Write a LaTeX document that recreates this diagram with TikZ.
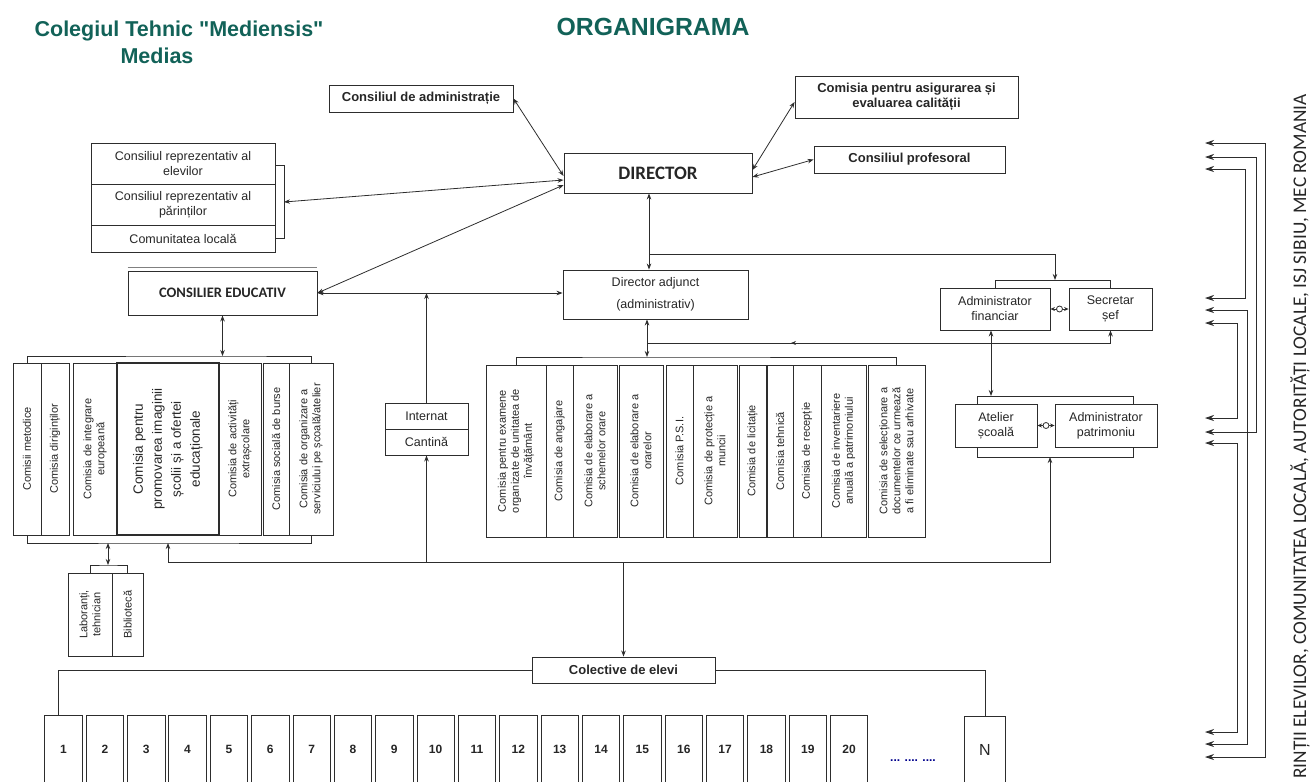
\documentclass[tikz,border=0pt]{standalone}
\usepackage{fontspec}
\setmainfont{Liberation Sans}[Ligatures=TeXOff]
\newfontfamily\carl{Carlito}
\usetikzlibrary{arrows.meta,calc}
\definecolor{teal1}{RGB}{18,98,88}
\definecolor{lc}{RGB}{45,45,45}
\begin{document}
\begin{tikzpicture}[x=1pt,y=-1pt,
  bx/.style={draw=lc, line width=0.9pt, inner sep=1pt, align=center, text=black!85, font=\fontsize{12.5}{15}\selectfont},
  bb/.style={bx, font=\fontsize{13}{15.5}\selectfont\bfseries},
  vb/.style={draw=lc, line width=0.9pt, inner sep=1pt, align=center, rotate=90, text=black!85, font=\fontsize{11}{13}\selectfont},
  nb/.style={inner sep=0pt, text=black!85, font=\fontsize{12}{14}\selectfont\bfseries},
  cn/.style={draw=lc, line width=0.8pt},
  dbl/.style={cn, {Stealth[length=6pt,width=4.5pt]}-{Stealth[length=6pt,width=4.5pt]}},
  sgl/.style={cn, -{Stealth[length=6pt,width=4.5pt]}},
  sdbl/.style={cn, {Stealth[length=4.5pt,width=4pt]}-{Stealth[length=4.5pt,width=4pt]}},
  rdbl/.style={cn, {Stealth[length=9pt,width=6pt]}-{Stealth[length=9pt,width=6pt]}},
  hub/.style={circle, draw=lc, fill=white, line width=0.8pt, inner sep=0pt, minimum size=6pt},
  ttl/.style={text=teal1, font=\fontsize{21.5}{24}\selectfont\bfseries}]
\useasboundingbox (0,0) rectangle (1310,782);

% titles
\node[ttl] (t1) at (179,31) {Colegiul Tehnic "Mediensis"};
\node[ttl] (t2) at (157,56) {Medias};
\node[text=teal1, font=\fontsize{24.8}{26}\selectfont\bfseries] (t3) at (653,27) {ORGANIGRAMA};

% top boxes
\node[bb, minimum width=184pt, minimum height=27pt] (ca) at (421,98.5) {Consiliul de administrație};
\node[bb, minimum width=223pt, minimum height=42pt] (cq) at (906.5,97) {Comisia pentru asigurarea și\\evaluarea calității};
\node[bb, minimum width=191pt, minimum height=27pt] (cp) at (909.5,159.5) {Consiliul profesoral};
\node[bx, minimum width=188pt, minimum height=40pt, font=\carl\fontsize{19}{22}\selectfont\bfseries] (dir) at (658,173) {DIRECTOR};

% left stack
\node[bx, minimum width=184pt, minimum height=41pt] (s1) at (183,163.5) {Consiliul reprezentativ al\\elevilor};
\node[bx, minimum width=184pt, minimum height=41pt] (s2) at (183,204.5) {Consiliul reprezentativ al\\părinților};
\node[bx, minimum width=184pt, minimum height=27pt] (s3) at (183,238.5) {Comunitatea locală};
\coordinate (sb1) at (284,165);
\coordinate (sb2) at (284,238);
\coordinate (sbm) at (284,202);
\draw[cn] (s1.east |- sb1) -- (sb1) -- (sb2) -- (s3.east |- sb2);

% consilier educativ
\node[bx, minimum width=189pt, minimum height=44pt, font=\carl\fontsize{14.5}{17}\selectfont\bfseries] (ce) at (222.5,293) {CONSILIER EDUCATIV};
\draw[cn, draw=gray] ([yshift=3pt]ce.north west) -- ([yshift=3pt]ce.north east);

% director adjunct
\node[bx, minimum width=185pt, minimum height=49pt] (da) at (655.5,294.5) {Director adjunct\\[7pt](administrativ)};

% connectors around director
\draw[dbl] (ca.east) -- ([yshift=-3pt]dir.west);
\draw[dbl] (sbm) -- ([yshift=-7pt]dir.west);
\draw[dbl] ([yshift=-12pt]dir.west) -- (ce.east);
\draw[dbl] ([yshift=3pt]dir.east) -- ([yshift=-5pt]cq.west);
\draw[dbl] ([yshift=-4pt]dir.east) -- (cp.west);
\draw[dbl] ([xshift=-9pt]dir.south) -- ([xshift=-6.5pt]da.north);
\draw[dbl] (ce.east) -- (ce.east -| da.west);

% administrator / secretar
\node[bx, minimum width=110pt, minimum height=42pt] (af) at (995,309) {Administrator\\financiar};
\node[bx, minimum width=83pt, minimum height=42pt] (sf) at (1110.5,309) {Secretar\\șef};
\coordinate (j1) at (649,254);
\coordinate (abr) at (1055,280);
\draw[sgl] (j1) -| (abr);
\draw[cn] (af.north) -- (af.north |- abr) -- (sf.north |- abr) -- (sf.north);
\draw[sdbl] (af.east) -- (sf.west);
\node[hub] (h1c) at ($(af.east)!0.5!(sf.west)$) {};

% internat / cantina
\node[bx, minimum width=83pt, minimum height=26pt] (int) at (426.5,416) {Internat};
\node[bx, minimum width=83pt, minimum height=26pt] (can) at (426.5,442) {Cantină};
\draw[sgl] (int.north) -- (int.north |- ce.east);

% left group
\node[vb, minimum width=172pt, minimum height=28pt] (L1) at (27,449) {Comisii metodice};
\node[vb, minimum width=172pt, minimum height=28pt] (L2) at (55,449) {Comisia diriginților};
\node[vb, minimum width=172pt, minimum height=44pt] (L3) at (95,449) {Comisia de integrare\\europeană};
\node[vb, minimum width=172pt, minimum height=102pt, line width=1.2pt, font=\fontsize{13.5}{19}\selectfont] (L4) at (168,449) {Comisia pentru\\promovarea imaginii\\școlii și a ofertei\\educaționale};
\node[vb, minimum width=172pt, minimum height=42pt] (L5) at (240,449) {Comisia de activități\\extrașcolare};
\node[vb, minimum width=172pt, minimum height=26pt] (L6) at (276,449) {Comisia socială de burse};
\node[vb, minimum width=172pt, minimum height=44pt] (L7) at (311,449) {Comisia de organizare a\\serviciului pe școală/atelier};
\coordinate (lbt) at (222.5,356);
\draw[cn] (L1.east) |- (lbt) -| (L7.east);
\draw[dbl] (ce.south) -- (lbt);
\coordinate (lbb) at (168,543);
\draw[cn] (L1.west) |- (lbb) -| (L7.west);

% laboranti / biblioteca
\node[vb, minimum width=83pt, minimum height=44pt] (lab) at (90,614.5) {Laboranți,\\tehnician};
\node[vb, minimum width=83pt, minimum height=31pt] (bib) at (127.5,614.5) {Bibliotecă};
\coordinate (lab1) at (108,543);
\coordinate (lab2) at (108,565);
\draw[dbl] (lab1) -- (lab2);
\draw[cn] (lab.east) |- (lab2) -| (bib.east);

% center group
\node[vb, minimum width=172pt, minimum height=60pt] (C1) at (516,451) {Comisia pentru examene\\organizate de unitatea de\\învățământ};
\node[vb, minimum width=172pt, minimum height=27pt] (C2) at (559.5,451) {Comisia de angajare};
\node[vb, minimum width=172pt, minimum height=44pt] (C3) at (595,451) {Comisia de elaborare a\\schemelor orare};
\node[vb, minimum width=172pt, minimum height=44pt] (C4) at (641,451) {Comisia de elaborare a\\orarelor};
\node[vb, minimum width=172pt, minimum height=27pt] (C5) at (679.5,451) {Comisia P.S.I.};
\node[vb, minimum width=172pt, minimum height=44pt] (C6) at (715,451) {Comisia de protecție a\\muncii};
\node[vb, minimum width=172pt, minimum height=27pt] (C7) at (752.5,451) {Comisia de licitație};
\node[vb, minimum width=172pt, minimum height=26pt] (C8) at (780,451) {Comisia tehnică};
\node[vb, minimum width=172pt, minimum height=28pt] (C9) at (807,451) {Comisia de recepție};
\node[vb, minimum width=172pt, minimum height=45pt] (C10) at (843.5,451) {Comisia de inventariere\\anuală a patrimoniului};
\node[vb, minimum width=172pt, minimum height=57pt] (C11) at (896.5,451) {Comisia de selecționare a\\documentelor ce urmează\\a fi eliminate sau arhivate};
\coordinate (cbr) at (647,357);
\draw[cn] (C1.east) |- (cbr) -| (C11.east);
\draw[dbl] (da.south -| cbr) -- (cbr);
\coordinate (j2) at (647,343);
\draw[sgl] (j2) -| (sf.south);
\coordinate (mk1) at (798,343);
\coordinate (mk2) at (791,343);
\draw[cn, -{Stealth[length=5pt,width=4pt]}] (mk1) -- (mk2);

% atelier / patrimoniu
\node[bx, minimum width=82pt, minimum height=43pt] (at) at (996,425.5) {Atelier\\școală};
\node[bx, minimum width=102pt, minimum height=43pt] (ap) at (1106,425.5) {Administrator\\patrimoniu};
\coordinate (atl) at (977,396);
\coordinate (atr) at (1133,396);
\coordinate (abl) at (977,457);
\coordinate (abr2) at (1133,457);
\draw[cn] (atl |- at.north) -- (atl) -- (atr) -- (atr |- ap.north);
\draw[cn] (abl |- at.south) -- (abl) -- (abr2) -- (abr2 |- ap.south);
\coordinate (aft) at (991,396);
\draw[dbl] (af.south -| aft) -- (aft);
\draw[sdbl] (at.east) -- (ap.west);
\node[hub] (h2c) at ($(at.east)!0.5!(ap.west)$) {};

% colective de elevi
\node[bb, minimum width=183pt, minimum height=26pt] (col) at (623.5,670) {Colective de elevi};

% long bottom line
\coordinate (hl) at (168,562);
\coordinate (hr) at (1050,562);
\coordinate (abb) at (1050,457);
\draw[dbl] (lbb) -- (hl) -- (hr) -- (abb);
\draw[sgl] (can.south |- hl) -- (can.south);
\draw[sgl] (col.north |- hl) -- (col.north);

% class boxes
\foreach \i in {1,...,20} {
  \pgfmathsetmacro\cx{63.5+(\i-1)*41.35}
  \node[nb, minimum width=37pt, minimum height=66pt] (b\i) at (\cx,749) {\i};
  \draw[cn] (b\i.south west) |- (b\i.north east) -- (b\i.south east);
}
\node[nb, font=\fontsize{16}{18}\selectfont, minimum width=40pt, minimum height=65pt] (bN) at (985,749.5) {N};
\draw[cn, line width=1.1pt] (bN.south west) |- (bN.north east) -- (bN.south east);
\node[font=\fontsize{12}{14}\selectfont\bfseries, text=blue!55!black] (dots) at (913,761) {... .... ....};
\draw[cn] (col.west) -| ([xshift=-5.5pt]b1.north);
\draw[cn] (col.east) -| (bN.north);

% right side arrows
\coordinate (ra1) at (1205,143); \coordinate (rc1) at (1265,143);
\coordinate (ra2) at (1205,757); \coordinate (rc2) at (1265,757);
\draw[rdbl] (ra1) -- (rc1) -- (rc2) -- (ra2);
\coordinate (rb1) at (1205,157); \coordinate (rd1) at (1256,157);
\coordinate (rb2) at (1205,432); \coordinate (rd2) at (1256,432);
\draw[rdbl] (rb1) -- (rd1) -- (rd2) -- (rb2);
\coordinate (re1) at (1205,169); \coordinate (rf1) at (1245,169);
\coordinate (re2) at (1205,298); \coordinate (rf2) at (1245,298);
\draw[rdbl] (re1) -- (rf1) -- (rf2) -- (re2);
\coordinate (rg1) at (1205,310); \coordinate (rh1) at (1247,310);
\coordinate (rg2) at (1205,744); \coordinate (rh2) at (1247,744);
\draw[rdbl] (rg1) -- (rh1) -- (rh2) -- (rg2);
\coordinate (ri1) at (1205,323); \coordinate (rj1) at (1237,323);
\coordinate (ri2) at (1205,418); \coordinate (rj2) at (1237,418);
\draw[rdbl] (ri1) -- (rj1) -- (rj2) -- (ri2);
\coordinate (rk1) at (1205,443); \coordinate (rl1) at (1237,443);
\coordinate (rk2) at (1205,732); \coordinate (rl2) at (1237,732);
\draw[rdbl] (rk1) -- (rl1) -- (rl2) -- (rk2);

\node[rotate=90, anchor=west, inner sep=0pt, text=black!85, font=\carl\fontsize{19.3}{21}\selectfont] (side) at (1300,779) {RINȚII ELEVILOR, COMUNITATEA LOCALĂ, AUTORITĂȚI LOCALE, ISJ SIBIU, MEC ROMANIA};
\end{tikzpicture}
\end{document}
